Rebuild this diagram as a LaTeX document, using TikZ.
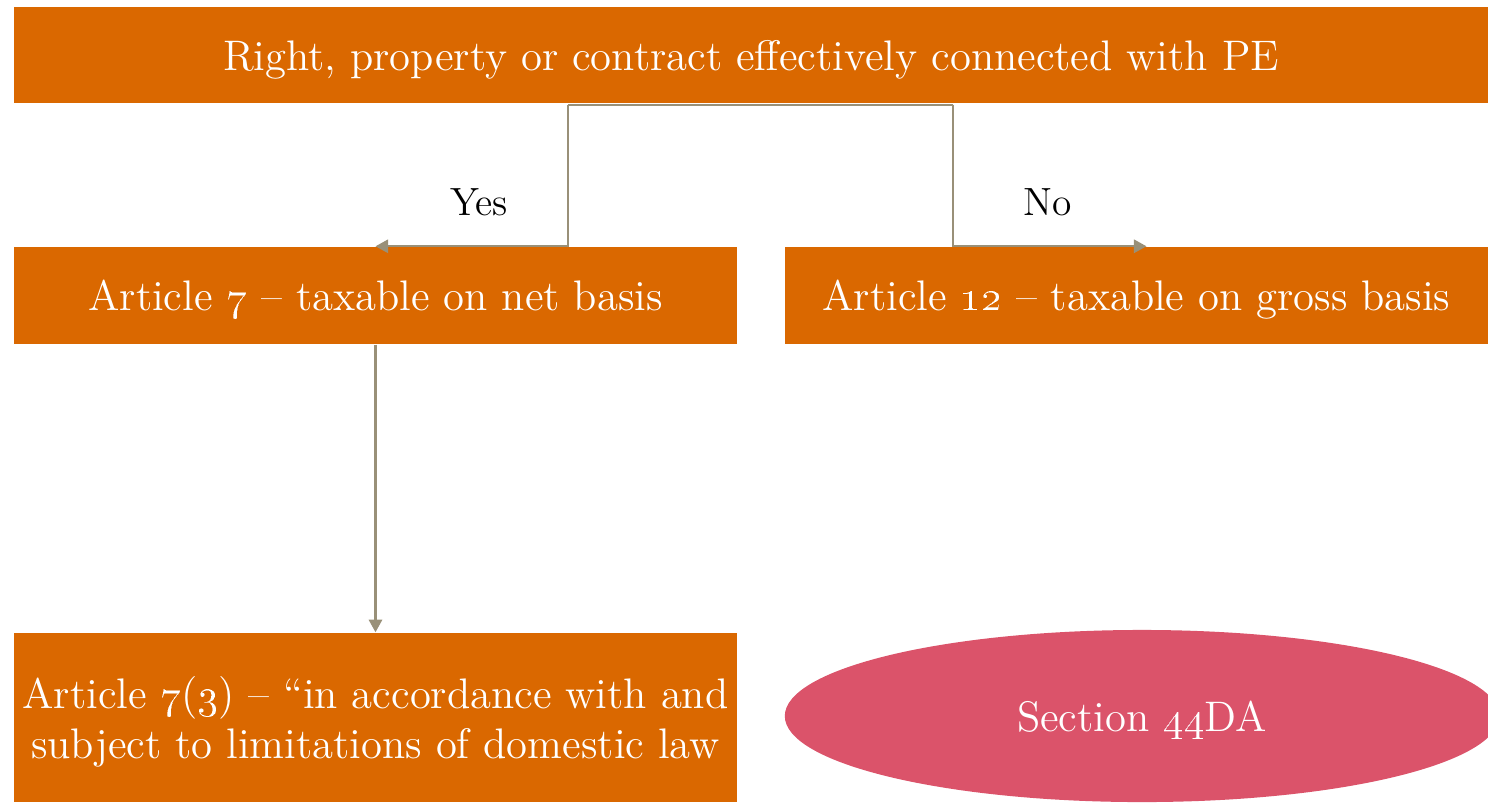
\documentclass[tikz,border=0pt]{standalone}
\usetikzlibrary{shapes.geometric,arrows.meta}
\definecolor{boxorange}{RGB}{218,104,0}
\definecolor{boxpink}{RGB}{219,83,106}
\definecolor{connline}{RGB}{153,144,120}
\newcommand{\osn}[1]{\oldstylenums{#1}}
\begin{document}
\begin{tikzpicture}[x=0.01cm,y=-0.01cm,
  obox/.style={rectangle,fill=boxorange,text=white,inner sep=0pt,align=center,text depth=0pt,font=\fontsize{12.15}{14.4}\selectfont},
  conn/.style={draw=connline,line width=0.6pt,-{Triangle[length=3.6pt,width=3.8pt]}},
  plain/.style={draw=connline,line width=0.6pt},
  lbl/.style={font=\fontsize{11.2}{14}\selectfont,text=black}]
\useasboundingbox (0,0) rectangle (1488,802);
\begin{scope}
\clip (0,0) rectangle (1488,802);
\node[ellipse,fill=boxpink,text=white,inner sep=0pt,minimum width=7.14cm,minimum height=1.72cm,text depth=0pt,font=\fontsize{12.15}{15}\selectfont] (sec) at (1142,716) {Section \osn{44}DA};
\end{scope}
\node[obox,minimum width=14.74cm,minimum height=0.96cm] (title) at (751,55) {Right, property or contract effectively connected with PE};
\node[obox,minimum width=7.23cm,minimum height=0.97cm] (a7) at (375.5,295.5) {Article \osn{7} -- taxable on net basis};
\node[obox,minimum width=7.03cm,minimum height=0.97cm] (a12) at (1136.5,295.5) {Article \osn{12} -- taxable on gross basis};
\node[obox,minimum width=7.23cm,minimum height=1.69cm] (a73) at (375.5,717.5) {Article \osn{7}(\osn{3}) -- ``in accordance with and\\subject to limitations of domestic law};
\coordinate (yesstart) at ([xshift=-1.83cm,yshift=-0.01cm]title.south);
\coordinate (nostart) at ([xshift=2.02cm,yshift=-0.01cm]title.south);
\coordinate (notip) at ([xshift=0.1cm]a12.north);
\draw[plain] (yesstart) -- (nostart);
\draw[conn] (yesstart) |- (a7.north);
\draw[conn] (nostart) |- (notip);
\draw[conn] (a7.south) -- (a73.north);
\node[lbl] (yes) at (479,202) {Yes};
\node[lbl] (no) at (1048,202) {No};
\end{tikzpicture}
\end{document}
